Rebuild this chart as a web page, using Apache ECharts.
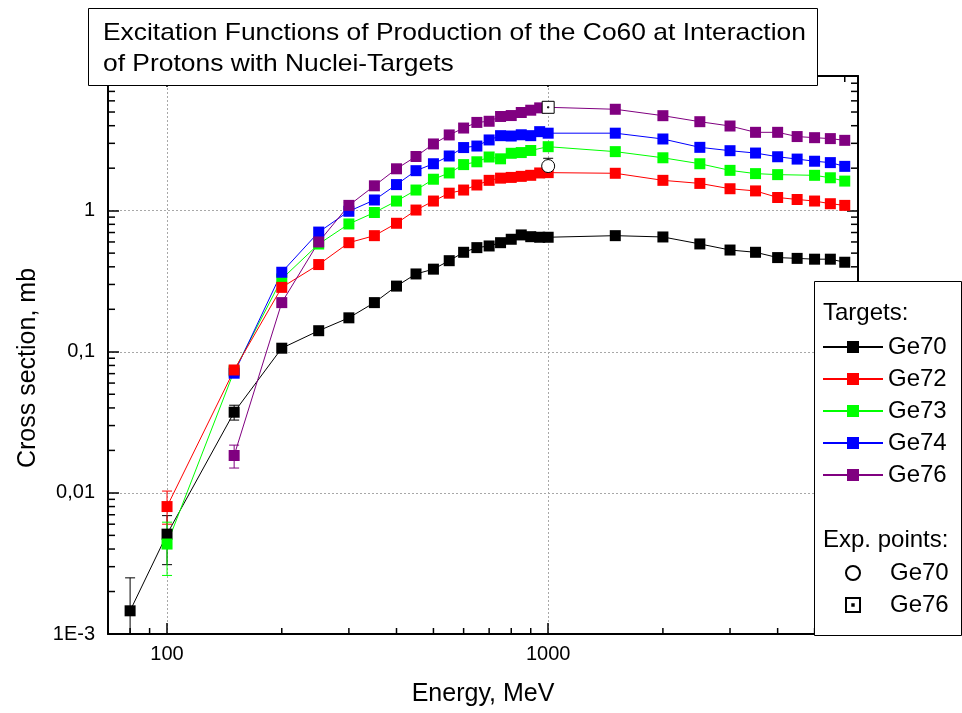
<!DOCTYPE html>
<html>
<head>
<meta charset="utf-8">
<script src="https://cdn.jsdelivr.net/npm/echarts@6/dist/echarts.min.js"></script>
<style>
  html, body { margin: 0; padding: 0; background: #fff; }
  #chart { width: 962px; height: 713px; }
</style>
</head>
<body>
<div id="chart"></div>
<script>
// energies (MeV) and cross sections (mb)
const eGe70 = [80, 100, 150, 200, 250, 300, 350, 400, 450, 500, 550, 600, 650, 700, 750, 800, 850, 900, 950, 1000, 1500, 2000, 2500, 3000, 3500, 4000, 4500, 5000, 5500, 6000]
const sGe70 = [0.00146, 0.0051, 0.0373, 0.106, 0.141, 0.174, 0.223, 0.292, 0.356, 0.385, 0.442, 0.507, 0.547, 0.562, 0.593, 0.627, 0.673, 0.654, 0.648, 0.648, 0.665, 0.651, 0.581, 0.526, 0.507, 0.465, 0.459, 0.453, 0.453, 0.431]

const eGe72 = [100, 150, 200, 250, 300, 350, 400, 450, 500, 550, 600, 650, 700, 750, 800, 850, 900, 950, 1000, 1500, 2000, 2500, 3000, 3500, 4000, 4500, 5000, 5500, 6000]
const sGe72 = [0.0080, 0.0743, 0.286, 0.415, 0.593, 0.665, 0.814, 1.01, 1.17, 1.33, 1.40, 1.52, 1.64, 1.70, 1.72, 1.75, 1.78, 1.85, 1.86, 1.84, 1.64, 1.56, 1.43, 1.38, 1.24, 1.20, 1.17, 1.12, 1.09]

const eGe73 = [100, 150, 200, 250, 300, 350, 400, 450, 500, 550, 600, 650, 700, 750, 800, 850, 900, 1000, 1500, 2000, 2500, 3000, 3500, 4000, 5000, 5500, 6000]
const sGe73 = [0.00434, 0.073, 0.328, 0.58, 0.805, 0.97, 1.17, 1.40, 1.67, 1.85, 2.12, 2.22, 2.40, 2.33, 2.55, 2.58, 2.67, 2.84, 2.62, 2.37, 2.15, 1.93, 1.83, 1.80, 1.78, 1.71, 1.62]

const eGe74 = [150, 200, 250, 300, 350, 400, 450, 500, 550, 600, 650, 700, 750, 800, 850, 900, 950, 1000, 1500, 2000, 2500, 3000, 3500, 4000, 4500, 5000, 5500, 6000]
const sGe74 = [0.0705, 0.366, 0.705, 0.99, 1.19, 1.53, 1.92, 2.15, 2.44, 2.80, 2.87, 3.17, 3.40, 3.38, 3.45, 3.40, 3.63, 3.54, 3.54, 3.22, 2.81, 2.66, 2.56, 2.41, 2.32, 2.24, 2.19, 2.06]

const eGe76 = [150, 200, 250, 300, 350, 400, 450, 500, 550, 600, 650, 700, 750, 800, 850, 900, 950, 1000, 1500, 2000, 2500, 3000, 3500, 4000, 4500, 5000, 5500, 6000]
const sGe76 = [0.0184, 0.223, 0.60, 1.09, 1.50, 1.98, 2.42, 2.97, 3.44, 3.85, 4.22, 4.30, 4.65, 4.72, 4.96, 5.15, 5.35, 5.40, 5.23, 4.71, 4.27, 3.98, 3.59, 3.59, 3.35, 3.29, 3.24, 3.15]

// experimental points
const expGe70 = [[1000, 2.07]]
const expGe76 = [[1000, 5.40]]

// error bars: [energy, low, high]
const errGe70 = [[80, 0.0009, 0.0025], [100, 0.0031, 0.0069], [150, 0.0328, 0.0418]]
const errGe72 = [[100, 0.0060, 0.0103], [200, 0.270, 0.305]]
const errGe73 = [[100, 0.0026, 0.0062], [200, 0.31, 0.345], [250, 0.55, 0.62]]
const errGe76 = [[150, 0.0150, 0.0218], [250, 0.57, 0.64], [300, 1.03, 1.14]]
const errExp70 = [[1000, 1.79, 2.35]]

// axis ticks
const xTickValues = [100, 1000]
const xTickLabels = ['100', '1000']
const yTickValues = [0.001, 0.01, 0.1, 1]
const yTickLabels = ['1E-3', '0,01', '0,1', '1']
const xMinorTicks = [80, 90, 200, 300, 400, 500, 600, 700, 800, 900, 2000, 3000, 4000, 5000, 6000]
const yMinorTicks = [0.002, 0.003, 0.004, 0.005, 0.006, 0.007, 0.008, 0.009,
  0.02, 0.03, 0.04, 0.05, 0.06, 0.07, 0.08, 0.09,
  0.2, 0.3, 0.4, 0.5, 0.6, 0.7, 0.8, 0.9,
  2, 3, 4, 5, 6, 7, 8]

const FONT = '"Liberation Sans", Arial, sans-serif'
const X_MIN = 70, X_MAX = 6500, Y_MIN = 0.001, Y_MAX = 9

const pairs = (xs, ys) => xs.map((x, i) => [x, ys[i]])

const tickFormatter = (values, labels) => v => {
  const i = values.findIndex(t => Math.abs(t - v) / t < 1e-6)
  return i < 0 ? '' : labels[i]
}

const lineSeries = (name, color, xs, ys) => ({
  type: 'line',
  name,
  data: pairs(xs, ys),
  symbol: 'rect',
  symbolSize: 11,
  lineStyle: { color, width: 1 },
  itemStyle: { color, opacity: 1 },
  emphasis: { disabled: true },
})

const errorSeries = (data, color) => ({
  type: 'custom',
  data,
  clip: true,
  encode: { x: 0, y: [1, 2] },
  z: 3,
  renderItem: (params, api) => {
    const x = api.value(0)
    const lo = api.coord([x, api.value(1)])
    const hi = api.coord([x, api.value(2)])
    const style = { stroke: color, lineWidth: 1 }
    return {
      type: 'group',
      children: [
        { type: 'line', shape: { x1: lo[0], y1: lo[1], x2: hi[0], y2: hi[1] }, style },
        { type: 'line', shape: { x1: lo[0] - 5, y1: lo[1], x2: lo[0] + 5, y2: lo[1] }, style },
        { type: 'line', shape: { x1: hi[0] - 5, y1: hi[1], x2: hi[0] + 5, y2: hi[1] }, style },
      ],
    }
  },
})

// minor ticks on all four sides, placed through the axis scales
const minorTickSeries = (data, horizontal) => ({
  type: 'custom',
  data,
  silent: true,
  z: 4,
  renderItem: (params, api) => {
    const cs = params.coordSys
    const p = api.coord([api.value(0), api.value(1)])
    const style = { stroke: '#000', lineWidth: 1.5 }
    if (horizontal) {
      const b = cs.y + cs.height
      return {
        type: 'group',
        children: [
          { type: 'line', shape: { x1: p[0], y1: b, x2: p[0], y2: b - 6 }, style },
          { type: 'line', shape: { x1: p[0], y1: cs.y, x2: p[0], y2: cs.y + 6 }, style },
        ],
      }
    }
    const r = cs.x + cs.width
    return {
      type: 'group',
      children: [
        { type: 'line', shape: { x1: cs.x, y1: p[1], x2: cs.x + 7, y2: p[1] }, style },
        { type: 'line', shape: { x1: r, y1: p[1], x2: r - 7, y2: p[1] }, style },
      ],
    }
  },
})

const axisBase = {
  type: 'log',
  logBase: 10,
  axisLine: { show: true, lineStyle: { color: '#000', width: 2 } },
  axisTick: { show: true, inside: true, length: 11, lineStyle: { color: '#000', width: 1.5 } },
}

const chart = echarts.init(document.getElementById('chart'))

chart.setOption({
  animation: false,
  backgroundColor: '#fff',
  grid: { left: 108, right: 104, top: 76, bottom: 79 },
  xAxis: [
    {
      ...axisBase,
      min: X_MIN,
      max: X_MAX,
      position: 'bottom',
      name: 'Energy, MeV',
      nameLocation: 'middle',
      nameGap: 48,
      nameTextStyle: { fontSize: 25, color: '#000', fontFamily: FONT },
      axisLabel: { fontSize: 20, color: '#000', fontFamily: FONT, margin: 10, formatter: tickFormatter(xTickValues, xTickLabels) },
      splitLine: { show: true, lineStyle: { color: '#a8a8a8', width: 1, type: [2, 2] } },
    },
    {
      ...axisBase,
      min: X_MIN,
      max: X_MAX,
      position: 'top',
      axisLabel: { show: false },
      splitLine: { show: false },
    },
  ],
  yAxis: [
    {
      ...axisBase,
      min: Y_MIN,
      max: Y_MAX,
      position: 'left',
      axisLabel: { fontSize: 20, color: '#000', fontFamily: FONT, margin: 13, formatter: tickFormatter(yTickValues, yTickLabels) },
      splitLine: { show: true, lineStyle: { color: '#a8a8a8', width: 1, type: [2, 2] } },
    },
    {
      ...axisBase,
      min: Y_MIN,
      max: Y_MAX,
      position: 'right',
      axisLabel: { show: false },
      splitLine: { show: false },
    },
  ],
  legend: [
    {
      data: ['Ge70', 'Ge72', 'Ge73', 'Ge74', 'Ge76'],
      orient: 'vertical',
      left: 822,
      top: 335,
      padding: 0,
      itemWidth: 60,
      itemHeight: 15,
      itemGap: 8,
      selectedMode: false,
      z: 120,
      textStyle: { fontSize: 24, lineHeight: 24, color: '#000', fontFamily: FONT },
    },
    {
      data: ['Ge70 ', 'Ge76 '],
      orient: 'vertical',
      left: 845,
      top: 561,
      padding: 0,
      itemWidth: 14,
      itemHeight: 14,
      itemGap: 8,
      selectedMode: false,
      z: 120,
      formatter: n => n.trim(),
      itemStyle: { opacity: 1 },
      textStyle: { fontSize: 24, lineHeight: 24, color: '#000', fontFamily: FONT, padding: [0, 0, 0, 25] },
    },
  ],
  graphic: [
    { type: 'rect', z: 100, shape: { x: 814.5, y: 281.5, width: 147, height: 354 }, style: { fill: '#fff', stroke: '#000', lineWidth: 1 } },
    { type: 'text', z: 101, x: 823, y: 313, style: { text: 'Targets:', fontSize: 24, fontFamily: FONT, fill: '#000', verticalAlign: 'middle' } },
    { type: 'text', z: 101, x: 823, y: 540, style: { text: 'Exp. points:', fontSize: 24, fontFamily: FONT, fill: '#000', verticalAlign: 'middle' } },
    { type: 'rect', z: 100, shape: { x: 88.5, y: 8.5, width: 729, height: 77 }, style: { fill: '#fff', stroke: '#000', lineWidth: 1 } },
    { type: 'text', z: 101, x: 103, y: 33, scaleX: 1.1, style: { text: 'Excitation Functions of Production of the Co60 at Interaction', fontSize: 24, fontFamily: FONT, fill: '#000', verticalAlign: 'middle' } },
    { type: 'text', z: 101, x: 103, y: 64, scaleX: 1.1, style: { text: 'of Protons with Nuclei-Targets', fontSize: 24, fontFamily: FONT, fill: '#000', verticalAlign: 'middle' } },
    { type: 'text', z: 101, x: 28, y: 368, rotation: Math.PI / 2, style: { text: 'Cross section, mb', fontSize: 25, fontFamily: FONT, fill: '#000', align: 'center', verticalAlign: 'middle' } },
  ],
  series: [
    minorTickSeries(xMinorTicks.map(v => [v, 1]), true),
    minorTickSeries(yMinorTicks.map(v => [100, v]), false),
    lineSeries('Ge70', '#000000', eGe70, sGe70),
    lineSeries('Ge73', '#00ff00', eGe73, sGe73),
    lineSeries('Ge74', '#0000ff', eGe74, sGe74),
    lineSeries('Ge72', '#ff0000', eGe72, sGe72),
    lineSeries('Ge76', '#800080', eGe76, sGe76),
    errorSeries(errGe70, '#000000'),
    errorSeries(errGe72, '#ff0000'),
    errorSeries(errGe73, '#00ff00'),
    errorSeries(errGe76, '#800080'),
    errorSeries(errExp70, '#000000'),
    {
      type: 'scatter',
      name: 'Ge70 ',
      data: expGe70,
      symbol: 'circle',
      symbolSize: 13,
      z: 6,
      itemStyle: { color: '#fff', borderColor: '#000', borderWidth: 1, opacity: 1 },
      emphasis: { disabled: true },
    },
    {
      type: 'scatter',
      name: 'Ge76 ',
      data: expGe76,
      symbol: 'path://M0,0H12V12H0Z M5.4,5.4H6.6V6.6H5.4Z',
      symbolSize: 12,
      z: 6,
      itemStyle: { color: '#fff', borderColor: '#000', borderWidth: 1, opacity: 1 },
      emphasis: { disabled: true },
    },
  ],
})
</script>
</body>
</html>
